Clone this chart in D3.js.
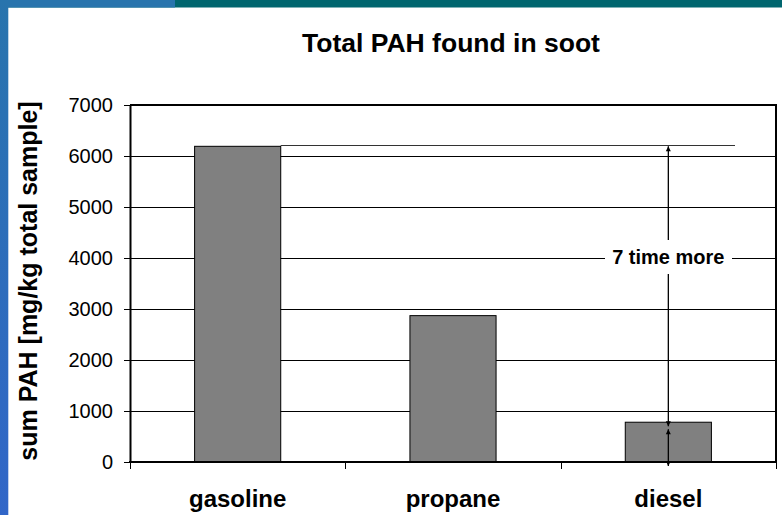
<!DOCTYPE html>
<html>
<head>
<meta charset="utf-8">
<script src="https://cdn.jsdelivr.net/npm/d3@7"></script>
<style>
  body { margin: 0; background: #fff; }
  svg { display: block; font-family: "Liberation Sans", Arial, sans-serif; }
</style>
</head>
<body>
<svg id="canvas"></svg>
<script>
// data
let fuels = ['gasoline', 'propane', 'diesel']
let pahValues = [6190, 2870, 780]
let yTicks = [0, 1000, 2000, 3000, 4000, 5000, 6000, 7000]
let titleText = 'Total PAH found in soot'
let yLabel = 'sum PAH [mg/kg total sample]'
let noteText = '7 time more'

//Dimensions
let width = 782
let height = 515
let plot = {left: 130, right: 776, top: 105, bottom: 462}

let svg = d3.select('#canvas')
            .attr('width', width)
            .attr('height', height)

// slide decoration: top band + left strip
let defs = svg.append('defs')
let grad = defs.append('linearGradient')
               .attr('id', 'strip')
               .attr('x1', 0).attr('y1', 0).attr('x2', 0).attr('y2', 1)
grad.append('stop').attr('offset', '0%').attr('stop-color', '#2874ad')
grad.append('stop').attr('offset', '100%').attr('stop-color', '#3166c8')

svg.append('rect').attr('x', 0).attr('y', 0).attr('width', width).attr('height', 7.5).attr('fill', '#00666f')
svg.append('rect').attr('x', 0).attr('y', 0).attr('width', 175).attr('height', 7.5).attr('fill', '#2874ad')
svg.append('rect').attr('x', 0).attr('y', 0).attr('width', 8.3).attr('height', height).attr('fill', 'url(#strip)')

let x = d3.scaleBand()
          .domain(fuels)
          .range([plot.left, plot.right])
          .paddingInner(0.6)
          .paddingOuter(0.3)

let y = d3.scaleLinear()
          .domain([0, 7000])
          .range([plot.bottom, plot.top])

// gridlines
svg.append('g')
   .selectAll('line')
   .data(yTicks.slice(1))
   .enter()
   .append('line')
   .attr('x1', plot.left)
   .attr('x2', plot.right)
   .attr('y1', d => Math.round(y(d)) + 0.5)
   .attr('y2', d => Math.round(y(d)) + 0.5)
   .attr('stroke', '#000')
   .attr('stroke-width', 1)

// bars
svg.append('g')
   .selectAll('rect')
   .data(fuels)
   .enter()
   .append('rect')
   .attr('x', d => x(d))
   .attr('y', (d, i) => y(pahValues[i]))
   .attr('width', x.bandwidth())
   .attr('height', (d, i) => y(0) - y(pahValues[i]))
   .attr('fill', '#808080')
   .attr('stroke', '#000')
   .attr('stroke-width', 1)

// plot frame (top + right)
svg.append('path')
   .attr('d', `M${plot.left},${plot.top}H${plot.right}V${plot.bottom}`)
   .attr('fill', 'none')
   .attr('stroke', '#000')
   .attr('stroke-width', 2)

// y axis
let yAxis = svg.append('g')
   .attr('transform', `translate(${plot.left},0)`)
   .call(d3.axisLeft(y).tickValues(yTicks).tickFormat(d3.format('d'))
           .tickSize(6).tickPadding(11).tickSizeOuter(0))
yAxis.select('.domain').attr('stroke-width', 2)
yAxis.selectAll('.tick line').attr('stroke-width', 1)
yAxis.selectAll('text').attr('font-size', 20).attr('fill', '#000')
     .attr('font-family', '"Liberation Sans", Arial, sans-serif')

// x axis line + boundary ticks
svg.append('line')
   .attr('x1', plot.left - 1).attr('x2', plot.right + 1)
   .attr('y1', plot.bottom).attr('y2', plot.bottom)
   .attr('stroke', '#000').attr('stroke-width', 2)

let bounds = d3.range(fuels.length + 1).map(i => plot.left + i * x.step())
svg.append('g')
   .selectAll('line')
   .data(bounds)
   .enter()
   .append('line')
   .attr('x1', d => Math.round(d) + 0.5)
   .attr('x2', d => Math.round(d) + 0.5)
   .attr('y1', plot.bottom)
   .attr('y2', plot.bottom + 7)
   .attr('stroke', '#000')

svg.append('g')
   .selectAll('text')
   .data(fuels)
   .enter()
   .append('text')
   .attr('x', d => x(d) + x.bandwidth() / 2)
   .attr('y', 507)
   .attr('text-anchor', 'middle')
   .attr('font-size', 24)
   .attr('font-weight', 'bold')
   .text(d => d)

// title
svg.append('text')
   .attr('x', 451)
   .attr('y', 52)
   .attr('text-anchor', 'middle')
   .attr('font-size', 26.5)
   .attr('font-weight', 'bold')
   .text(titleText)

// y label
svg.append('text')
   .attr('transform', 'translate(37,281) rotate(-90)')
   .attr('text-anchor', 'middle')
   .attr('font-size', 25)
   .attr('font-weight', 'bold')
   .text(yLabel)

// annotation: line from gasoline top across, double arrows down to diesel
let arrowX = x('diesel') + x.bandwidth() / 2
let topY = y(pahValues[0])
let dieselY = y(pahValues[2])

svg.append('line')
   .attr('x1', x('gasoline') + x.bandwidth())
   .attr('x2', 735)
   .attr('y1', Math.round(topY) - 0.5)
   .attr('y2', Math.round(topY) - 0.5)
   .attr('stroke', '#333')

let head = (tipY, dir) => {
    // dir -1 points up, 1 points down
    let h = 5, w = 2.5
    return `M${arrowX},${tipY}L${arrowX - w},${tipY - dir * h}L${arrowX + w},${tipY - dir * h}Z`
}
let arrowG = svg.append('g')
let segs = [[topY, dieselY + 4], [dieselY + 7, y(0) + 4]]
segs.forEach(s => {
    arrowG.append('line')
          .attr('x1', arrowX).attr('x2', arrowX)
          .attr('y1', s[0]).attr('y2', s[1])
          .attr('stroke', '#000').attr('stroke-width', 1.3)
    arrowG.append('path').attr('d', head(s[0], -1)).attr('fill', '#000')
    arrowG.append('path').attr('d', head(s[1], 1)).attr('fill', '#000')
})

// label box over the line
svg.append('rect')
   .attr('x', 605).attr('y', 240)
   .attr('width', 127).attr('height', 34)
   .attr('fill', '#fff')
svg.append('text')
   .attr('x', arrowX)
   .attr('y', 264)
   .attr('text-anchor', 'middle')
   .attr('font-size', 20)
   .attr('font-weight', 'bold')
   .text(noteText)
</script>
</body>
</html>
